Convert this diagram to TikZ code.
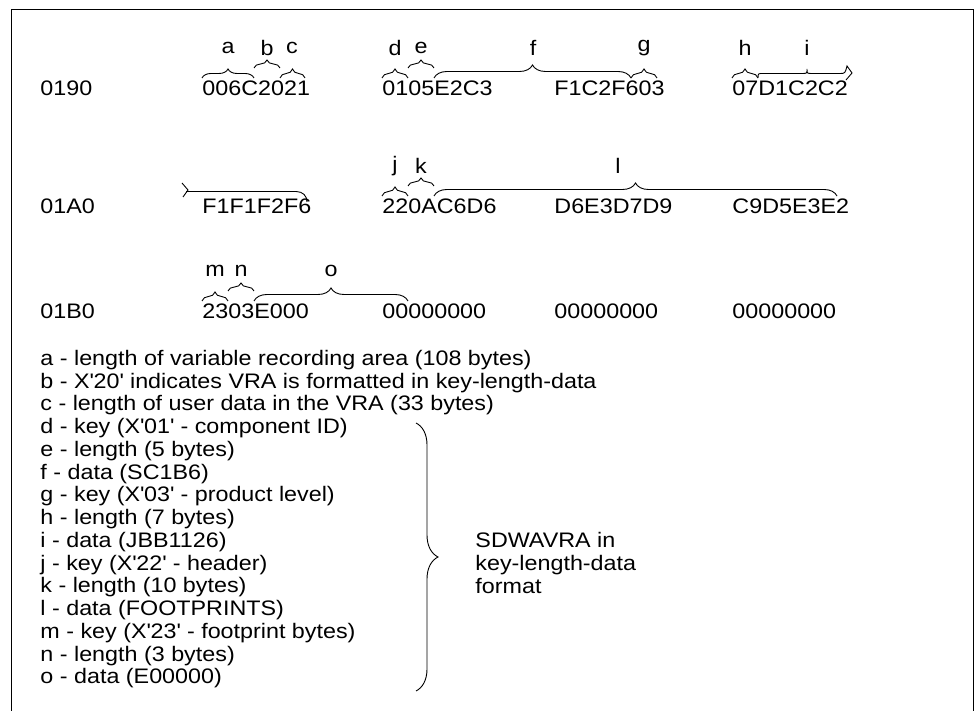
\documentclass[tikz,border=0pt]{standalone}
\usepackage{fontspec}
\setmainfont{Liberation Sans}[FakeStretch=1.11]
\usepackage{tikz}
\usetikzlibrary{decorations.pathreplacing}
\newcommand\hexfont{\fontsize{21}{25}\selectfont}
\newcommand\descfont{\fontsize{21}{22.75}\selectfont}
\newcommand\q{\textquotesingle}

\begin{document}
\begin{tikzpicture}[x=1pt,y=1pt,line width=0.9pt,
  hex/.style={anchor=west,inner sep=0pt,font=\hexfont},
  lbl/.style={inner sep=0pt,font=\descfont},
  desc/.style={anchor=west,inner sep=0pt,font=\descfont},
  brc/.style={decorate,decoration={brace,amplitude=9pt}},
  brchi/.style={decorate,decoration={brace,amplitude=8pt}},
  brcbig/.style={decorate,decoration={brace,amplitude=13pt}}]
  \useasboundingbox (0,0) rectangle (976,711);
  % frame
  \draw (11,-2) -- (11,702) -- (973,702) -- (973,-2);

  % dump rows
  \node[hex] (a190) at (40,623) {0190};
  \node[hex] (w11) at (202,623) {006C2021};
  \node[hex] (w12) at (382,623) {0105E2C3};
  \node[hex] (w13) at (554,623) {F1C2F603};
  \node[hex] (w14) at (732,623) {07D1C2C2};

  \node[hex] (a1a0) at (40,505) {01A0};
  \node[hex] (w21) at (202,505) {F1F1F2F6};
  \node[hex] (w22) at (382,505) {220AC6D6};
  \node[hex] (w23) at (554,505) {D6E3D7D9};
  \node[hex] (w24) at (732,505) {C9D5E3E2};

  \node[hex] (a1b0) at (40,400) {01B0};
  \node[hex] (w31) at (202,400) {2303E000};
  \node[hex] (w32) at (382,400) {00000000};
  \node[hex] (w33) at (554,400) {00000000};
  \node[hex] (w34) at (732,400) {00000000};

  % fields of row 0190
  \draw[brc] (202,633) -- (254,633);
  \draw[brchi] (254,643) -- (280,643);
  \draw[brc] (280,633) -- (305,633);
  \draw[brc] (382,633) -- (408,633);
  \draw[brchi] (408,643) -- (434,643);
  \draw[brcbig] (434,633) -- (631,633);
  \draw[brc] (631,633) -- (657,633);
  \draw[brc] (732,633) -- (758,633);
  \draw (758,633) .. controls (758,637.5) .. (763,637.5) -- (802,637.5)
    .. controls (807,637.5) .. (807,642) .. controls (807,637.5) .. (812,637.5)
    -- (840,637.5) .. controls (845,637.5) .. (847,645) -- (852,638) -- (846,631);
  \node[lbl] (la) at (228,663) {a};
  \node[lbl] (lb) at (267,663) {b};
  \node[lbl] (lc) at (292,663) {c};
  \node[lbl] (ld) at (395,663) {d};
  \node[lbl] (le) at (421,663) {e};
  \node[lbl] (lf) at (533,663) {f};
  \node[lbl] (lg) at (644,663) {g};
  \node[lbl] (lh) at (745,663) {h};
  \node[lbl] (li) at (807,663) {i};

  % fields of row 01A0
  \draw (182,528) -- (188,521) -- (183,514);
  \draw (186,519.5) -- (296,519.5) .. controls (303,519.5) and (307,515) .. (307,509);
  \draw[brc] (382,515) -- (408,515);
  \draw[brchi] (408,525) -- (434,525);
  \draw[brcbig] (434,515) -- (837,515);
  \node[lbl] (lj) at (395,545) {j};
  \node[lbl] (lk) at (421,545) {k};
  \node[lbl] (ll) at (618,545) {l};

  % fields of row 01B0
  \draw[brc] (202,410) -- (228,410);
  \draw[brchi] (228,420) -- (254,420);
  \draw[brcbig] (254,410) -- (408,410);
  \node[lbl] (lm) at (215,440) {m};
  \node[lbl] (ln) at (241,440) {n};
  \node[lbl] (lo) at (331,440) {o};

  % legend
  \foreach \txt [count=\i from 0] in {
    a - length of variable recording area (108 bytes),
    b - X\q20\q\ indicates VRA is formatted in key-length-data,
    c - length of user data in the VRA (33 bytes),
    d - key (X\q01\q\ - component ID),
    e - length (5 bytes),
    f - data (SC1B6),
    g - key (X\q03\q\ - product level),
    h - length (7 bytes),
    i - data (JBB1126),
    j - key (X\q22\q\ - header),
    k - length (10 bytes),
    l - data (FOOTPRINTS),
    m - key (X\q23\q\ - footprint bytes),
    n - length (3 bytes),
    o - data (E00000)}
    \node[desc] (d\i) at (40,351-22.75*\i) {\txt};
  \draw[decorate,decoration={brace,amplitude=22pt}] (416,288) -- (416,20);
  \node[desc,align=left] (kld) at (475,148) {SDWAVRA in\\key-length-data\\format};
\end{tikzpicture}
\end{document}
